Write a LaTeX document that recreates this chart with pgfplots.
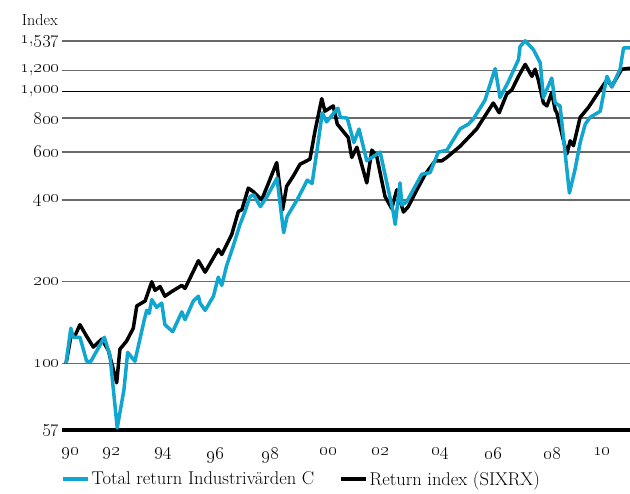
\RequirePackage{fix-cm}
\documentclass[border=0pt]{standalone}
\usepackage{pgfplots}
\usepackage{pgfplotstable}
\pgfplotsset{compat=1.18}
\definecolor{cyanline}{RGB}{17,166,207}
\definecolor{gridgray}{RGB}{105,105,105}
\newcommand\os[1]{\oldstylenums{#1}}
\pgfplotstableread{
x y
1990.00 100
1990.18 135
1990.27 125
1990.52 125
1990.77 102
1990.93 102
1991.43 125
1991.64 107
1991.91 58
1992.16 80
1992.30 110
1992.57 102
1992.92 145
1993.01 157
1993.10 153
1993.20 172
1993.38 161
1993.57 167
1993.69 139
1993.98 131
1994.32 155
1994.44 145
1994.75 170
1994.94 177
1995.00 167
1995.19 157
1995.50 177
1995.68 208
1995.81 194
1995.99 229
1996.24 271
1996.49 325
1996.68 363
1996.80 395
1996.87 412
1997.00 418
1997.25 378
1997.50 412
1997.87 481
1998.12 303
1998.25 348
1998.62 400
1999.00 473
1999.18 460
1999.37 615
1999.56 837
1999.72 775
2000.14 870
2000.24 805
2000.49 800
2000.74 650
2000.93 729
2001.22 557
2001.72 600
2002.21 359
2002.28 325
2002.46 462
2002.53 383
2002.71 394
2003.27 497
2003.58 504
2003.89 600
2004.21 610
2004.70 730
2005.01 760
2005.20 795
2005.63 931
2006.01 1217
2006.19 952
2006.50 1088
2006.88 1314
2006.94 1467
2007.13 1540
2007.44 1427
2007.69 1278
2007.81 952
2008.12 1123
2008.25 909
2008.43 887
2008.78 424
2008.99 518
2009.18 650
2009.37 760
2009.55 805
2009.93 848
2010.18 1139
2010.36 1040
2010.67 1210
2010.80 1450
2011.04 1450
}\indus
\pgfplotstableread{
x y
1990.00 100
1990.19 127
1990.34 127
1990.52 139
1990.77 126
1991.02 115
1991.33 123
1991.58 112
1991.89 85
1992.01 113
1992.26 121
1992.51 135
1992.64 163
1992.95 170
1993.20 200
1993.32 186
1993.51 192
1993.69 177
1993.94 184
1994.32 194
1994.44 189
1994.94 239
1995.19 217
1995.68 263
1995.81 252
1996.18 298
1996.43 363
1996.56 368
1996.80 442
1996.99 429
1997.30 400
1997.86 549
1998.08 368
1998.23 449
1998.48 490
1998.73 541
1999.10 565
1999.29 718
1999.54 943
1999.66 848
1999.97 887
2000.12 760
2000.53 678
2000.66 573
2000.85 625
2001.22 462
2001.41 610
2001.59 580
2001.90 412
2002.15 372
2002.34 436
2002.59 361
2002.77 378
2003.09 436
2003.40 497
2003.77 557
2004.02 557
2004.20 573
2004.70 630
2005.32 730
2005.94 909
2006.16 837
2006.44 980
2006.63 1016
2006.88 1139
2007.13 1261
2007.38 1139
2007.50 1210
2007.62 1105
2007.81 909
2007.94 887
2008.12 994
2008.25 857
2008.31 837
2008.68 590
2008.81 660
2008.93 633
2009.18 805
2009.49 876
2009.86 994
2010.18 1105
2010.36 1048
2010.73 1210
2011.04 1220
}\sixrx
\begin{document}
\begin{tikzpicture}
\begin{axis}[
  name=ax, at={(0,0)}, anchor=south west,
  width=568pt, height=389pt, scale only axis,
  ymode=log, ymin=57, ymax=1537,
  xmin=1989.85, xmax=2011.04,
  clip=false,
  axis x line*=bottom, axis y line*=left,
  y axis line style={draw=none},
  x axis line style={line width=3.5pt, black},
  ytick={57,100,200,400,600,800,1000,1200,1537},
  yticklabels={\os{57},\os{100},\os{200},\os{400},\os{600},\os{800},\os{1}{,}\os{000},\os{1}{,}\os{200},\os{1}{,}\os{537}},
  yminorticks=false,
  ymajorgrids,
  major grid style={draw=gridgray, line width=1.3pt},
  ytick style={draw=none},
  yticklabel style={xshift=1pt, inner ysep=1pt},
  xtick={1990.15,1991.70,1993.63,1995.56,1997.61,1999.79,2001.72,2003.96,2005.95,2008.13,2009.99},
  xticklabels={\os{90},\os{92},\os{94},\os{96},\os{98},\os{00},\os{02},\os{04},\os{06},\os{08},\os{10}},
  xtick style={draw=none},
  extra x ticks={1992.07,1994.22,1996.36,1998.51,2000.65,2002.80,2004.94,2007.09,2009.24},
  extra x tick labels={},
  extra x tick style={tick style={draw=gridgray, line width=0.6pt}, major tick length=4pt, tick align=outside, grid=none},
  ticklabel style={font=\fontsize{18.5}{18.5}\selectfont},
  xticklabel style={yshift=-14pt},
  legend columns=2,
  legend style={at={(0,0)}, anchor=north west, xshift=-4pt, yshift=-38pt,
    draw=none, fill=none, font=\fontsize{18.5}{20}\selectfont,
    nodes={inner ysep=1pt},
    /tikz/every even column/.append style={column sep=23pt}},
  legend image code/.code={\draw[#1] (0pt,0pt) -- (25pt,0pt);},
]
\addplot[black, line width=0.9pt, forget plot] coordinates {(1989.85,1000) (2011.04,1000)};
\addlegendimage{cyanline, line width=3.5pt}
\addlegendentry{Total return Industriv\"arden C}
\addplot[black, line width=3.5pt, line join=round] table[x=x,y=y] {\sixrx};
\addlegendentry{Return index (SIXRX)}
\addplot[cyanline, line width=3.5pt, line join=round, forget plot] table[x=x,y=y] {\indus};
\end{axis}
\node[anchor=base east, font=\fontsize{16}{16}\selectfont, inner sep=0pt] at ([shift={(-4pt,15pt)}]ax.north west) {Index};
\pgfresetboundingbox
\path ([shift={(-62pt,-64pt)}]ax.south west) rectangle ([shift={(0pt,41pt)}]ax.north east);
\end{tikzpicture}
\end{document}
